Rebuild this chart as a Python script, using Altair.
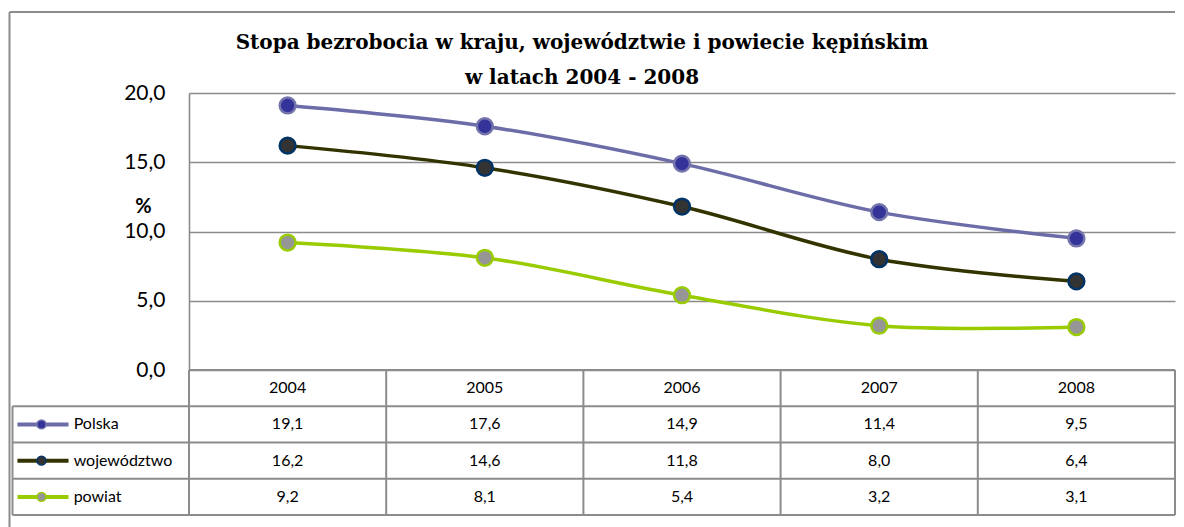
import altair as alt
import pandas as pd

# ---- data ----
years = [2004, 2005, 2006, 2007, 2008]
series = ["Polska", "województwo", "powiat"]
polska = [19.1, 17.6, 14.9, 11.4, 9.5]
wojewodztwo = [16.2, 14.6, 11.8, 8.0, 6.4]
powiat = [9.2, 8.1, 5.4, 3.2, 3.1]
y_ticks = [0, 5, 10, 15, 20]
title_lines = ["Stopa bezrobocia w kraju, województwie i powiecie kępińskim",
               "w latach 2004 - 2008"]

line_colors = ["#6C6CA8", "#333300", "#99CC00"]
marker_fill = ["#333399", "#333333", "#969696"]
marker_stroke = ["#7474AC", "#003366", "#99CC00"]

# ---- layout constants ----
W, H_TOP, H_TAB = 986, 277, 145
COL_PX = W / len(years)
ROW_PX = H_TAB / 4
SANS = "Lato"
SERIF = "DejaVu Serif"
GRID = "#8C8C8C"
LEGEND_SPAN = 176.5 / COL_PX          # width of legend column in column units

x_left = years[0] - 0.5
x_right = years[-1] + 0.5
leg_left = x_left - LEGEND_SPAN
frame_x = leg_left - 3 / COL_PX
frame_top_y = -358 / ROW_PX
frame_bot_y = 4 + 148 / ROW_PX
x_scale = alt.Scale(domain=[x_left, x_right], nice=False, zero=False)
tab_y = alt.Scale(domain=[0, 4], reverse=True, nice=False, zero=False)


def X(f):
    return alt.X(f, scale=x_scale, axis=None)


def TY(f):
    return alt.Y(f, scale=tab_y, axis=None)


recs = []
for i, (s, vals) in enumerate(zip(series, [polska, wojewodztwo, powiat])):
    for yr, v in zip(years, vals):
        recs.append({"rok": yr, "seria": s, "wartosc": v,
                     "tekst": f"{v:.1f}".replace(".", ","), "wiersz": i + 1.5})
df = pd.DataFrame(recs)

color_sc = alt.Scale(domain=series, range=line_colors)
fill_sc = alt.Scale(domain=series, range=marker_fill)
stroke_sc = alt.Scale(domain=series, range=marker_stroke)

y_axis = alt.Axis(values=y_ticks,
                  labelExpr="replace(format(datum.value, '.1f'), '.', ',')",
                  title="%", titleAngle=0, titleX=-46, titleY=113,
                  titleAlign="center", titleBaseline="middle",
                  titleFont=SANS, titleFontSize=20, titleFontWeight="bold",
                  titleColor="black",
                  labelFont=SANS, labelFontSize=21, labelColor="black",
                  labelPadding=24, ticks=False,
                  grid=True, gridColor=GRID, gridWidth=1.6,
                  domain=True, domainColor=GRID, domainWidth=1.6)
y_top = alt.Y("wartosc:Q", scale=alt.Scale(domain=[0, 20], nice=False), axis=y_axis)

# ---- top line chart ----
base = alt.Chart(df)
lines = base.mark_line(strokeWidth=3.5, interpolate="catmull-rom").encode(
    x=X("rok:Q"), y=y_top,
    color=alt.Color("seria:N", scale=color_sc, legend=None),
)
points = base.mark_circle(size=250, opacity=1, strokeWidth=2.5).encode(
    x=X("rok:Q"), y=y_top,
    fill=alt.Fill("seria:N", scale=fill_sc, legend=None),
    stroke=alt.Stroke("seria:N", scale=stroke_sc, legend=None),
)
top = alt.layer(lines, points).properties(
    width=W, height=H_TOP,
    title=alt.Title(title_lines, font=SERIF, fontSize=20, fontWeight="bold",
                    color="black", anchor="middle", dx=-100, lineHeight=35, offset=-6),
)

# ---- data table ----
hdr = pd.DataFrame({"rok": years, "tekst": [str(y) for y in years], "wiersz": [0.5] * len(years)})
hlines = pd.DataFrame({"yy": [0, 1, 2, 3, 4, frame_top_y],
                       "xa": [x_left] + [leg_left] * 4 + [frame_x],
                       "xb": [x_right] * 6})
vlines = pd.DataFrame({"xx": [x_left + k for k in range(len(years) + 1)] + [leg_left, frame_x],
                       "ya": [0] * (len(years) + 1) + [1, frame_top_y],
                       "yb": [4] * (len(years) + 2) + [frame_bot_y]})
leg = pd.DataFrame({"seria": series, "wiersz": [i + 1.5 for i in range(len(series))],
                    "lx1": [leg_left + 0.025] * 3, "lx2": [leg_left + 0.284] * 3,
                    "cx": [leg_left + 0.147] * 3, "tx": [leg_left + 0.31] * 3})

cells = alt.Chart(df).mark_text(font=SANS, fontSize=16, color="black").encode(
    x=X("rok:Q"), y=TY("wiersz:Q"), text="tekst:N")
head = alt.Chart(hdr).mark_text(font=SANS, fontSize=16, color="black").encode(
    x=X("rok:Q"), y=TY("wiersz:Q"), text="tekst:N")
hrule = alt.Chart(hlines).mark_rule(color=GRID, strokeWidth=2).encode(
    x=X("xa:Q"), x2="xb:Q", y=TY("yy:Q"))
vrule = alt.Chart(vlines).mark_rule(color=GRID, strokeWidth=2).encode(
    x=X("xx:Q"), y=TY("ya:Q"), y2="yb:Q")
leg_line = alt.Chart(leg).mark_rule(strokeWidth=4).encode(
    x=X("lx1:Q"), x2="lx2:Q", y=TY("wiersz:Q"),
    color=alt.Color("seria:N", scale=color_sc, legend=None))
leg_dot = alt.Chart(leg).mark_circle(size=80, opacity=1, strokeWidth=1.5).encode(
    x=X("cx:Q"), y=TY("wiersz:Q"),
    fill=alt.Fill("seria:N", scale=fill_sc, legend=None),
    stroke=alt.Stroke("seria:N", scale=stroke_sc, legend=None))
leg_txt = alt.Chart(leg).mark_text(font=SANS, fontSize=16, color="black", align="left").encode(
    x=X("tx:Q"), y=TY("wiersz:Q"), text="seria:N")

table = alt.layer(hrule, vrule, cells, head, leg_line, leg_dot, leg_txt) \
    .properties(width=W, height=H_TAB)

chart = alt.vconcat(top, table, spacing=0, bounds="flush").properties(
    padding={"left": 0, "top": 3, "right": 0, "bottom": 0},
    background="white",
).configure_view(stroke=None)

chart.save("out.html", embed_options={"renderer": "svg", "actions": False})
